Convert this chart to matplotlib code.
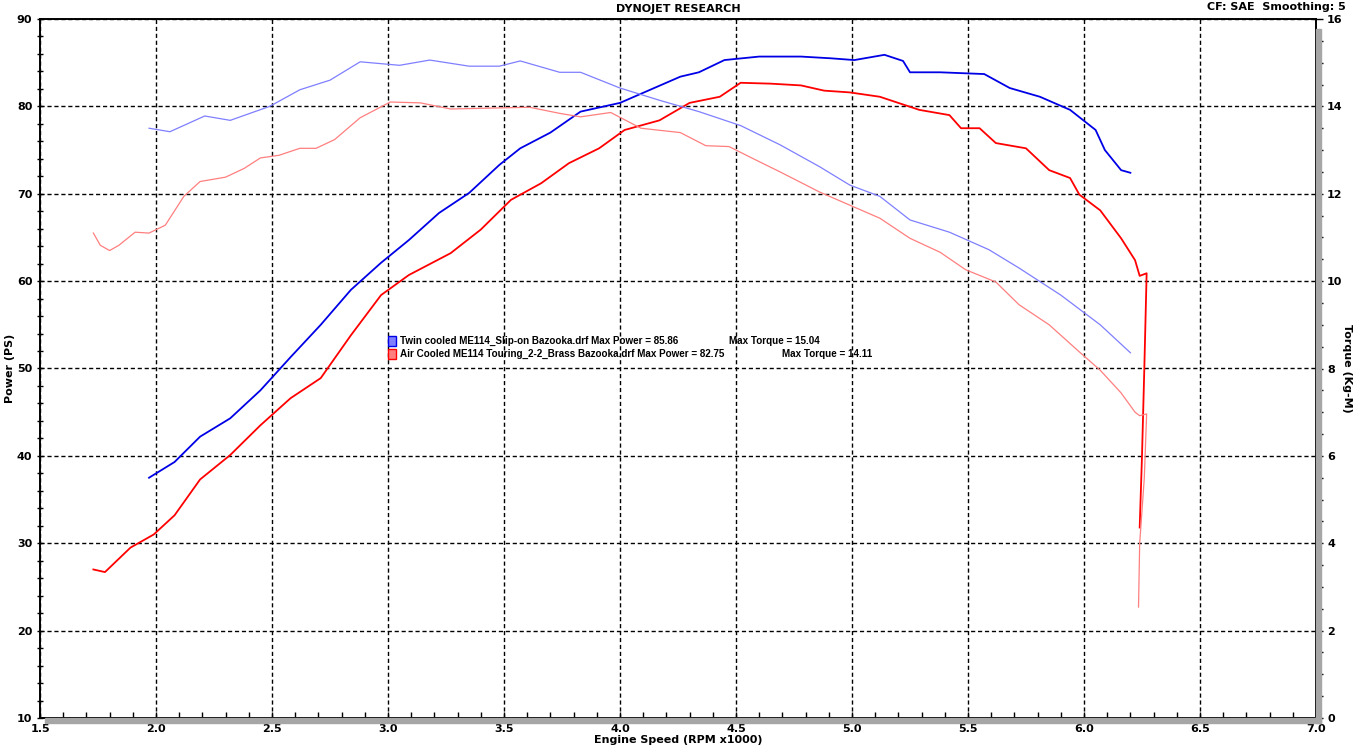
import matplotlib.pyplot as plt
from matplotlib.patches import Rectangle
from matplotlib.ticker import MultipleLocator

BLUE = "#0000e6"; LBLUE = "#7f7fff"
RED = "#ff0000"; LRED = "#ff7f7f"

# Twin cooled ME114 - power (PS) and torque (Kg-M) vs RPM x1000
rpm_b = [1.97, 2.08, 2.19, 2.32, 2.45, 2.58, 2.71, 2.84, 2.97, 3.09, 3.22, 3.35, 3.48, 3.57,
         3.70, 3.83, 4.00, 4.13, 4.26, 4.34, 4.45, 4.60, 4.78, 4.91, 5.01, 5.14, 5.22, 5.25,
         5.38, 5.57, 5.68, 5.81, 5.94, 6.05, 6.09, 6.16, 6.20]
pow_b = [37.5, 39.3, 42.2, 44.3, 47.5, 51.3, 55.0, 59.0, 62.1, 64.7, 67.8, 70.1, 73.3, 75.2,
         77.0, 79.4, 80.4, 81.9, 83.4, 83.9, 85.3, 85.7, 85.7, 85.5, 85.3, 85.9, 85.2, 83.9,
         83.9, 83.7, 82.1, 81.1, 79.6, 77.3, 75.0, 72.7, 72.4]
rpm_bt = [1.97, 2.06, 2.21, 2.32, 2.49, 2.62, 2.75, 2.88, 3.05, 3.18, 3.35, 3.48, 3.57, 3.74,
          3.83, 4.00, 4.17, 4.34, 4.52, 4.69, 4.86, 4.99, 5.12, 5.25, 5.42, 5.59, 5.72, 5.90,
          6.07, 6.20]
trq_b = [13.50, 13.42, 13.78, 13.68, 14.00, 14.38, 14.60, 15.02, 14.94, 15.06, 14.92, 14.92,
         15.04, 14.78, 14.78, 14.42, 14.14, 13.88, 13.56, 13.12, 12.62, 12.20, 11.94, 11.40,
         11.12, 10.72, 10.30, 9.68, 9.00, 8.36]

# Air Cooled ME114 Touring - power (PS) and torque (Kg-M)
rpm_r = [1.73, 1.78, 1.89, 1.99, 2.08, 2.19, 2.32, 2.45, 2.58, 2.71, 2.84, 2.97, 3.09, 3.27,
         3.40, 3.53, 3.66, 3.78, 3.91, 4.02, 4.17, 4.30, 4.43, 4.52, 4.65, 4.78, 4.88, 4.99,
         5.12, 5.29, 5.42, 5.47, 5.55, 5.62, 5.75, 5.85, 5.94, 5.98, 6.07, 6.16, 6.22, 6.24,
         6.27, 6.26, 6.25, 6.24]
pow_r = [27.0, 26.7, 29.5, 31.0, 33.2, 37.3, 40.1, 43.5, 46.6, 48.9, 53.8, 58.4, 60.7, 63.2,
         65.9, 69.3, 71.2, 73.5, 75.2, 77.3, 78.4, 80.4, 81.1, 82.7, 82.6, 82.4, 81.8, 81.6,
         81.1, 79.6, 79.0, 77.5, 77.5, 75.8, 75.2, 72.7, 71.8, 69.9, 68.1, 64.9, 62.4, 60.6,
         60.9, 50.0, 40.0, 31.8]
rpm_rt = [1.73, 1.76, 1.80, 1.84, 1.91, 1.97, 2.04, 2.12, 2.19, 2.30, 2.38, 2.45, 2.53, 2.62,
          2.69, 2.77, 2.88, 3.01, 3.14, 3.27, 3.44, 3.61, 3.74, 3.83, 3.96, 4.09, 4.26, 4.37,
          4.47, 4.56, 4.69, 4.86, 4.99, 5.12, 5.25, 5.38, 5.49, 5.62, 5.72, 5.85, 5.98, 6.07,
          6.16, 6.22, 6.24, 6.27, 6.26, 6.24, 6.235]
trq_r = [11.10, 10.82, 10.70, 10.82, 11.12, 11.10, 11.28, 11.94, 12.28, 12.38, 12.58, 12.82,
         12.88, 13.04, 13.04, 13.24, 13.74, 14.10, 14.08, 13.94, 13.96, 13.98, 13.84, 13.76,
         13.86, 13.50, 13.40, 13.10, 13.08, 12.84, 12.50, 12.04, 11.74, 11.44, 10.98, 10.66,
         10.26, 9.98, 9.46, 9.00, 8.38, 7.96, 7.44, 7.00, 6.92, 6.96, 5.50, 4.00, 2.54]

runs = ["Twin cooled ME114_Slip-on Bazooka.drf", "Air Cooled ME114 Touring_2-2_Brass Bazooka.drf"]
max_power = ["85.86", "82.75"]
max_torque = ["15.04", "14.11"]

W, H = 1356, 750
fig = plt.figure(figsize=(W / 100, H / 100), dpi=100)
L, R, T, B = 40, 1316, 19, 718
ax = fig.add_axes([L / W, 1 - B / H, (R - L) / W, (B - T) / H])
ax2 = ax.twinx()

# drop shadow of the plot frame
fig.patches.append(Rectangle((R / W, 1 - (B + 5) / H), 5 / W, (B - T - 5) / H,
                             transform=fig.transFigure, color="#a6a6a6", zorder=0))
fig.patches.append(Rectangle(((L + 5) / W, 1 - (B + 5) / H), (R - L) / W, 5 / H,
                             transform=fig.transFigure, color="#a6a6a6", zorder=0))

ax.plot(rpm_b, pow_b, color=BLUE, lw=1.3, zorder=5)
ax.plot(rpm_r, pow_r, color=RED, lw=1.3, zorder=5)
ax2.plot(rpm_bt, trq_b, color=LBLUE, lw=0.9, zorder=4)
ax2.plot(rpm_rt, trq_r, color=LRED, lw=0.9, zorder=4)

ax.set_xlim(1.5, 7.0); ax.set_ylim(10, 90)
ax2.set_ylim(0, 16)
ax.xaxis.set_major_locator(MultipleLocator(0.5)); ax.xaxis.set_minor_locator(MultipleLocator(0.1))
ax.yaxis.set_major_locator(MultipleLocator(10)); ax.yaxis.set_minor_locator(MultipleLocator(2))
ax2.yaxis.set_major_locator(MultipleLocator(2)); ax2.yaxis.set_minor_locator(MultipleLocator(0.5))
ax.grid(True, which="major", color="black", ls=(0, (3, 2)), lw=1)
ax.set_axisbelow(True)

tf = dict(fontsize=8, fontweight="bold", family="DejaVu Sans")
ax.tick_params(axis="x", which="both", direction="in", length=4, width=1, pad=4)
ax.tick_params(axis="y", which="both", direction="inout", length=5, width=1, pad=3)
ax2.tick_params(axis="y", which="both", direction="out", length=5, width=1, pad=3)
for lab in ax.get_xticklabels() + ax.get_yticklabels() + ax2.get_yticklabels():
    lab.set_fontsize(8); lab.set_fontweight("bold")
for a in (ax, ax2):
    for s in a.spines.values():
        s.set_linewidth(1.2)

ax.set_xlabel("Engine Speed (RPM x1000)", labelpad=1, **tf)
ax.set_ylabel("Power (PS)", labelpad=1, **tf)
ax2.set_ylabel("Torque (Kg-M)", rotation=-90, labelpad=7, **tf)

fig.text(0.5, 1 - 9 / H, "DYNOJET RESEARCH", ha="center", va="center", **tf)
fig.text(1 - 10 / W, 1 - 7 / H, "CF: SAE  Smoothing: 5", ha="right", va="center", **tf)

# legend block
lf = dict(fontsize=7.1, fontweight="bold", family="Liberation Sans", va="center")
styles = [(LBLUE, BLUE, 729), (LRED, RED, 782)]
for i, ((col, edge, xt), name, pw, tq) in enumerate(zip(styles, runs, max_power, max_torque)):
    yc = 341 + i * 13
    fig.patches.append(Rectangle((388 / W, 1 - (yc + 5) / H), 8 / W, 10 / H,
                                 transform=fig.transFigure, facecolor=col, edgecolor=edge,
                                 lw=1, zorder=10))
    fig.text(400 / W, 1 - yc / H, f"{name} Max Power = {pw}", **lf)
    fig.text(xt / W, 1 - yc / H, f"Max Torque = {tq}", **lf)

fig.savefig("out.png", dpi=100, facecolor="white")
